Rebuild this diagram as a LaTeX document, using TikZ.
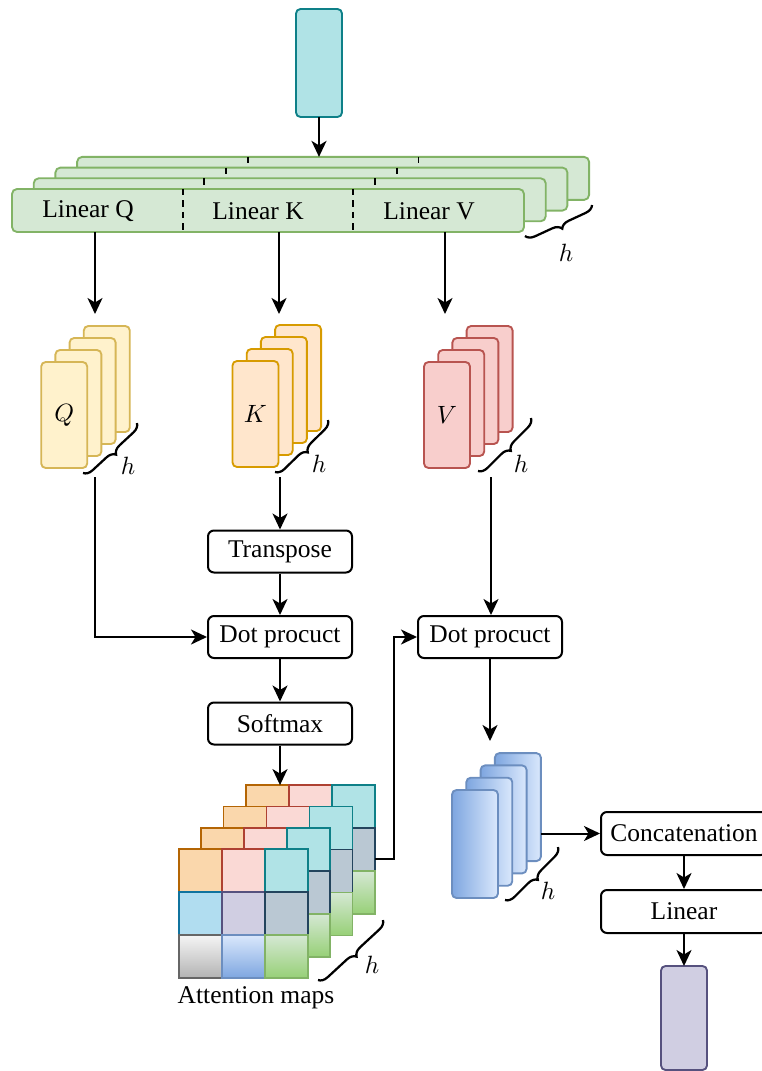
\documentclass[tikz,border=0pt]{standalone}
\usepackage{fontspec}
\setmainfont{Liberation Serif}
\usetikzlibrary{arrows.meta,decorations.pathreplacing,calc}
\definecolor{tealF}{HTML}{B0E3E6}\definecolor{tealL}{HTML}{0E8088}
\definecolor{grnF}{HTML}{D5E8D4}\definecolor{grnL}{HTML}{82B366}\definecolor{grnD}{HTML}{97D077}
\definecolor{yelF}{HTML}{FFF2CC}\definecolor{yelL}{HTML}{D6B656}
\definecolor{orgF}{HTML}{FFE6CC}\definecolor{orgL}{HTML}{D79B00}
\definecolor{redF}{HTML}{F8CECC}\definecolor{redL}{HTML}{B85450}
\definecolor{bluF}{HTML}{DAE8FC}\definecolor{bluD}{HTML}{7EA6E0}\definecolor{bluL}{HTML}{6C8EBF}
\definecolor{purF}{HTML}{D0CEE2}\definecolor{purL}{HTML}{56517E}
\definecolor{or2F}{HTML}{FAD7AC}\definecolor{or2L}{HTML}{B46504}
\definecolor{pnkF}{HTML}{FAD9D5}\definecolor{pnkL}{HTML}{AE4132}
\definecolor{lbF}{HTML}{B1DDF0}\definecolor{lbL}{HTML}{10739E}
\definecolor{gbF}{HTML}{BAC8D3}\definecolor{gbL}{HTML}{23445D}
\definecolor{gyT}{HTML}{F5F5F5}\definecolor{gyB}{HTML}{B3B3B3}\definecolor{gyL}{HTML}{666666}
\begin{document}
\begin{tikzpicture}[x=0.4pt,y=-0.4pt,font=\fontsize{10.2}{12}\selectfont,
  card/.style={draw,rounded corners=1.8pt,line width=0.75pt,minimum width=18.4pt,minimum height=42.4pt,inner sep=0pt,outer sep=0pt},
  linlayer/.style={draw=grnL,fill=grnF,rounded corners=2pt,line width=0.75pt,minimum width=204.8pt,minimum height=17.2pt,inner sep=0pt,outer sep=0pt},
  divline/.style={black,line width=0.7pt,dash pattern=on 2.6pt off 2pt},
  opbox/.style={draw,fill=white,rounded corners=2.4pt,line width=0.8pt,minimum width=57.6pt,minimum height=16.8pt,inner sep=0pt},
  widebox/.style={opbox,minimum width=66.4pt,minimum height=17.2pt},
  cell/.style={draw,line width=0.7pt,minimum size=17.2pt,inner sep=0pt,outer sep=0pt},
  amOr/.style={fill=or2F,draw=or2L}, amPk/.style={fill=pnkF,draw=pnkL}, amTl/.style={fill=tealF,draw=tealL},
  amLb/.style={fill=lbF,draw=lbL}, amPu/.style={fill=purF,draw=purL}, amGb/.style={fill=gbF,draw=gbL},
  amGy/.style={top color=gyT,bottom color=gyB,draw=gyL}, amBl/.style={top color=bluF,bottom color=bluD,draw=bluL},
  amGn/.style={top color=grnF,bottom color=grnD,draw=grnL},
  arr/.style={line width=0.8pt,-{Stealth[length=6.4pt,width=6pt,inset=1.8pt]}},
  brc/.style={decorate,decoration={brace,amplitude=3.6pt,mirror},line width=0.9pt}]
\useasboundingbox (0,0) rectangle (761,1071);

% input
\node[card,fill=tealF,draw=tealL,minimum height=43.2pt] (inp) at (319,63) {};

% linear layers
\foreach \i in {3,2,1,0}{
  \node[linlayer] (lin\i) at ({268+21.7*\i},{210.5-10.7*\i}) {};
  \draw[divline]
    ($(lin\i.north west)!1/3!(lin\i.north east)$) -- ($(lin\i.south west)!1/3!(lin\i.south east)$);
  \draw[divline]
    ($(lin\i.north west)!2/3!(lin\i.north east)$) -- ($(lin\i.south west)!2/3!(lin\i.south east)$);
}
\node (tq) at (88,211) {Linear Q};
\node (tk) at (258,211) {Linear K};
\node (tv) at (429,211) {Linear V};
\draw[brc] (525,236) -- (592,205);
\node (hg) at (566,253) {$h$};

\draw[arr] (inp.south) -- (inp.south |- lin3.north);

% Q K V stacks
\foreach \i in {3,2,1,0}{
  \node[card,fill=yelF,draw=yelL] (q\i) at ({64.2+14.2*\i},{415-12*\i}) {};
  \node[card,fill=orgF,draw=orgL] (k\i) at ({255.5+14.2*\i},{414-12*\i}) {};
  \node[card,fill=redF,draw=redL] (v\i) at ({447+14.2*\i},{415-12*\i}) {};
}
\node (ql) at (q0) {$Q$};
\node (kl) at (k0) {$K$};
\node (vl) at (v0) {$V$};
\draw[brc] (83,473) -- (137,423);
\node (hq) at (128,466) {$h$};
\draw[brc] (275,472) -- (328,420);
\node (hk) at (319,464) {$h$};
\draw[brc] (478,471) -- (531,418);
\node (hv) at (521,464) {$h$};

\coordinate (qin) at (95,314);
\coordinate (kin) at (279,314);
\coordinate (vin) at (445,314);
\draw[arr] (qin |- lin0.south) -- (qin);
\draw[arr] (kin |- lin0.south) -- (kin);
\draw[arr] (vin |- lin0.south) -- (vin);

% operation boxes
\node[opbox] (tr) at (280,551.5) {Transpose};
\node[opbox] (dot1) at (280,637) {Dot procuct};
\node[opbox] (sm) at (280,723.5) {Softmax};
\node[opbox] (dot2) at (490,637) {Dot procuct};

\coordinate (qout) at (95,477);
\coordinate (kout) at (280,477);
\coordinate (vout) at (491,477);
\draw[arr] (qout) |- (dot1.west);
\draw[arr] (kout) -- (tr.north);
\draw[arr] (tr.south) -- (dot1.north);
\draw[arr] (dot1.south) -- (sm.north);
\draw[arr] (vout) -- (vout |- dot2.north);

% attention maps
\foreach \l in {3,2,1,0}{
  \foreach \r/\c/\st in {1/1/amOr,1/2/amPk,1/3/amTl,2/1/amLb,2/2/amPu,2/3/amGb,3/1/amGy,3/2/amBl,3/3/amGn}{
    \node[cell,\st] (a\l-\r-\c) at ({200.5+43*(\c-1)+22.3*\l},{870.5+43*(\r-1)-21.3*\l}) {};
  }
}
\node (atl) at (256,998) {Attention maps};
\draw[brc] (318,980) -- (383,920);
\node (ha) at (372,965) {$h$};
\draw[arr] (sm.south) -- (sm.south |- a3-1-1.north);
\coordinate (aout) at (375,859);
\draw[arr] (aout) -- ++(19,0) |- (dot2.west);

% blue stack
\foreach \i in {3,2,1,0}{
  \node[card,left color=bluD,right color=bluF,draw=bluL,minimum height=43.2pt] (b\i) at ({475+14.3*\i},{844-12.3*\i}) {};
}
\draw[brc] (505,900) -- (558,847);
\node (hb) at (548,891) {$h$};
\coordinate (bin) at (490,741);
\draw[arr] (dot2.south) -- (bin);

% output part
\node[widebox] (cat) at (684,833.5) {Concatenation};
\node[widebox] (lino) at (684,911.5) {Linear};
\node[card,fill=purF,draw=purL,minimum height=41.6pt] (out) at (684,1018) {};
\draw[arr] (cat.west -| b3.east) -- (cat.west);
\draw[arr] (cat.south) -- (lino.north);
\draw[arr] (lino.south) -- (out.north);
\end{tikzpicture}
\end{document}
